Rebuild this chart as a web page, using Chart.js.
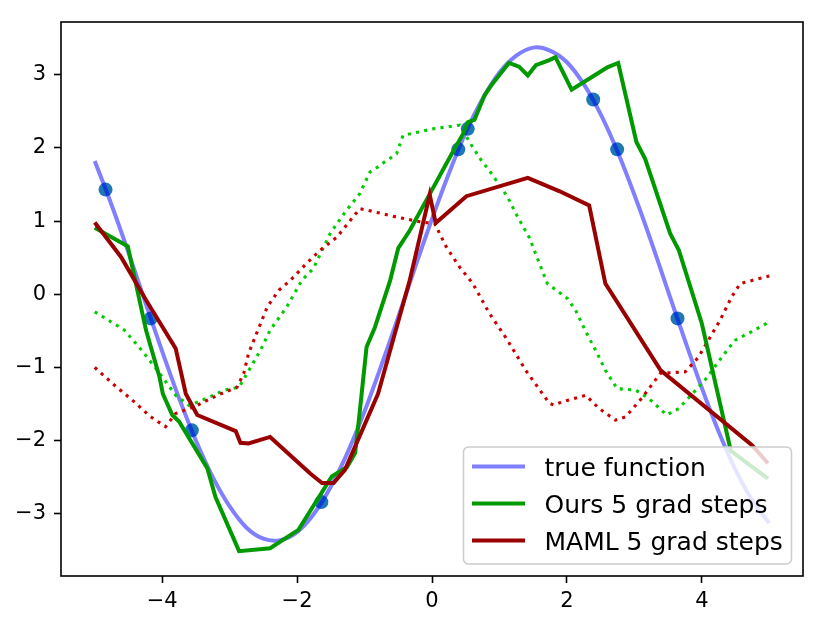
<!DOCTYPE html>
<html>
<head>
<meta charset="utf-8">
<script src="https://cdn.jsdelivr.net/npm/chart.js@4.4.1/dist/chart.umd.min.js"></script>
<style>
    body { margin: 0; background: #fff; }
    #wrap { width: 827px; height: 627px; }
</style>
</head>
<body>
<div id="wrap"><canvas id="sineChart" width="827" height="627"></canvas></div>
<script>
// tick labels
const xTicks = [-4, -2, 0, 2, 4];
const yTicks = [-3, -2, -1, 0, 1, 2, 3];

// true function
const trueX = [-5, -4.75, -4.5, -4.25, -4, -3.75, -3.5, -3.25, -3, -2.75, -2.5, -2.25, -2, -1.75, -1.5, -1.25, -1, -0.75, -0.5, -0.25,
    0, 0.25, 0.5, 0.75, 1, 1.25, 1.5, 1.75, 2, 2.25, 2.5, 2.75, 3, 3.25, 3.5, 3.75, 4, 4.25, 4.5, 4.75, 5];
const trueY = [1.82, 1.22, 0.57, -0.11, -0.78, -1.42, -2.00, -2.50, -2.90, -3.19, -3.34, -3.36, -3.25, -3.00, -2.63, -2.16, -1.60, -0.97, -0.31, 0.37,
    1.03, 1.65, 2.21, 2.67, 3.03, 3.26, 3.37, 3.33, 3.17, 2.87, 2.46, 1.95, 1.36, 0.72, 0.04, -0.63, -1.28, -1.88, -2.40, -2.82, -3.13];

// sampled points
const sampleX = [-4.84, -4.17, -3.56, -1.64, 0.39, 0.53, 2.39, 2.745, 3.64];
const sampleY = [1.43, -0.33, -1.86, -2.84, 1.98, 2.26, 2.66, 1.98, -0.33];

// Ours, 5 grad steps (solid)
const oursX = [-5, -4.51, -4.24, -4.04, -3.99, -3.85, -3.75, -3.33, -3.21, -2.86, -2.40, -1.98, -1.485, -1.26, -1.14, -1.09, -0.97, -0.846, -0.62, -0.50,
    -0.33, -0.03, 0.24, 0.46, 0.53, 0.63, 0.78, 0.90, 1.14, 1.29, 1.42, 1.54, 1.74, 1.83, 2.07, 2.33, 2.60, 2.76, 3.03, 3.16, 3.53, 3.66, 4.0, 4.43, 4.98];
const oursY = [0.91, 0.655, -0.49, -1.13, -1.36, -1.65, -1.74, -2.38, -2.77, -3.51, -3.47, -3.22, -2.49, -2.36, -2.17, -1.77, -0.72, -0.45, 0.19, 0.63,
    0.87, 1.375, 1.83, 2.19, 2.35, 2.385, 2.72, 2.88, 3.16, 3.11, 2.99, 3.13, 3.20, 3.24, 2.795, 2.945, 3.10, 3.16, 2.08, 1.85, 0.83, 0.60, -0.40, -2.14, -2.52];

// Ours before adaptation (dotted)
const oursPreX = [-5, -4.56, -4.31, -4.07, -3.80, -3.60, -3.31, -3.08, -2.86, -2.74, -2.54, -2.40, -2.15, -1.93, -1.76, -1.51, -1.29, -1.07, -0.92, -0.80,
    -0.70, -0.525, -0.43, 0.015, 0.41, 0.556, 0.73, 0.85, 1.02, 1.12, 1.245, 1.44, 1.71, 2.01, 2.13, 2.28, 2.45, 2.57, 2.745, 3.02, 3.21, 3.48, 3.66, 4.05, 4.295, 4.49, 4.74, 5];
const oursPreY = [-0.24, -0.49, -0.76, -1.04, -1.38, -1.52, -1.41, -1.31, -1.27, -1.08, -0.76, -0.49, -0.17, 0.19, 0.35, 0.83, 1.12, 1.375, 1.67, 1.74,
    1.81, 1.92, 2.17, 2.26, 2.31, 2.08, 1.83, 1.69, 1.465, 1.33, 1.10, 0.78, 0.146, -0.06, -0.22, -0.51, -0.81, -1.04, -1.29, -1.31, -1.42, -1.65, -1.56, -1.17, -0.86, -0.63, -0.51, -0.38];

// MAML, 5 grad steps (solid)
const mamlX = [-5, -4.61, -4.24, -3.80, -3.65, -3.48, -2.91, -2.84, -2.72, -2.40, -1.805, -1.63, -1.46, -1.29, -0.80, -0.33, -0.034, 0.055, 0.51, 1.42,
    1.885, 2.33, 2.57, 3.39, 4.74, 4.98];
const mamlY = [0.98, 0.51, -0.08, -0.74, -1.36, -1.65, -1.87, -2.03, -2.04, -1.95, -2.45, -2.58, -2.58, -2.40, -1.36, 0.19, 1.36, 0.975, 1.34, 1.59,
    1.41, 1.215, 0.146, -1.04, -2.06, -2.31];

// MAML before adaptation (dotted)
const mamlPreX = [-5, -4.71, -4.44, -4.17, -3.95, -3.80, -3.53, -3.18, -2.89, -2.79, -2.72, -2.59, -2.44, -2.27, -2.10, -1.85, -1.66, -1.41, -1.21, -1.07,
    -0.92, -0.525, -0.18, 0.04, 0.21, 0.41, 0.605, 0.85, 1.10, 1.39, 1.74, 1.81, 1.93, 2.28, 2.475, 2.72, 2.87, 3.11, 3.386, 3.755, 3.95, 4.27, 4.44, 4.57, 5];
const mamlPreY = [-1.00, -1.24, -1.45, -1.675, -1.81, -1.63, -1.54, -1.38, -1.27, -1.08, -0.81, -0.51, -0.17, 0.055, 0.19, 0.43, 0.60, 0.78, 1.01, 1.17,
    1.14, 1.055, 0.99, 0.965, 0.65, 0.37, 0.146, -0.26, -0.60, -1.04, -1.49, -1.515, -1.47, -1.38, -1.56, -1.72, -1.675, -1.42, -1.08, -1.06, -0.86, -0.355, -0.04, 0.146, 0.25];

const legendLabels = ['true function', 'Ours 5 grad steps', 'MAML 5 grad steps'];
const legendColors = ['rgba(0, 0, 255, 0.5)', '#009900', '#990000'];

const FONT = "'DejaVu Sans', 'Liberation Sans', sans-serif";

document.addEventListener('DOMContentLoaded', function() {
    initSineChart();
});

function toPoints(xs, ys) {
    return xs.map((x, i) => ({ x: x, y: ys[i] }));
}

function minusLabel(value) {
    return value < 0 ? '\u2212' + Math.abs(value) : String(value);
}

// matplotlib style legend, drawn over the lines with a see-through box
const legendBox = {
    id: 'legendBox',
    afterDatasetsDraw(chart) {
        const ctx = chart.ctx;
        const area = chart.chartArea;
        const w = 328, h = 117;
        const x = area.right - 11.5 - w;
        const y = area.bottom - 12 - h;

        ctx.save();
        ctx.beginPath();
        ctx.roundRect(x, y, w, h, 5);
        ctx.fillStyle = 'rgba(255, 255, 255, 0.8)';
        ctx.fill();
        ctx.lineWidth = 1.5;
        ctx.strokeStyle = '#cccccc';
        ctx.stroke();

        ctx.font = '25px ' + FONT;
        ctx.fillStyle = '#000';
        ctx.textBaseline = 'alphabetic';
        legendLabels.forEach((label, i) => {
            const ly = y + 19.5 + i * 37;
            ctx.beginPath();
            ctx.moveTo(x + 8.5, ly);
            ctx.lineTo(x + 61.5, ly);
            ctx.lineWidth = 4;
            ctx.strokeStyle = legendColors[i];
            ctx.stroke();
            ctx.fillText(label, x + 81, ly + 9.3);
        });
        ctx.restore();
    }
};

// box round the axes
const axesFrame = {
    id: 'axesFrame',
    afterDraw(chart) {
        const ctx = chart.ctx;
        const a = chart.chartArea;
        ctx.save();
        ctx.lineWidth = 1.6;
        ctx.strokeStyle = '#000';
        ctx.strokeRect(a.left, a.top, a.right - a.left, a.bottom - a.top);
        ctx.restore();
    }
};

function initSineChart() {
    const sineCtx = document.getElementById('sineChart');

    if (!sineCtx) return;

    const tickGrid = {
        drawOnChartArea: false,
        drawTicks: true,
        tickLength: 7,
        tickWidth: 1.6,
        tickColor: '#000'
    };

    const sineChart = new Chart(sineCtx, {
        type: 'scatter',
        data: {
            datasets: [
                {
                    label: 'samples',
                    data: toPoints(sampleX, sampleY),
                    pointRadius: 7,
                    pointBackgroundColor: '#1f77b4',
                    pointBorderWidth: 0,
                    showLine: false,
                    order: 6
                },
                {
                    label: 'true function',
                    data: toPoints(trueX, trueY),
                    borderColor: 'rgba(0, 0, 255, 0.5)',
                    borderWidth: 4,
                    pointRadius: 0,
                    showLine: true,
                    tension: 0.3,
                    order: 5
                },
                {
                    label: 'ours pre',
                    data: toPoints(oursPreX, oursPreY),
                    borderColor: '#00cc00',
                    borderWidth: 3.1,
                    borderDash: [3.1, 5.2],
                    borderCapStyle: 'butt',
                    pointRadius: 0,
                    showLine: true,
                    order: 4
                },
                {
                    label: 'maml pre',
                    data: toPoints(mamlPreX, mamlPreY),
                    borderColor: '#cc0000',
                    borderWidth: 3.1,
                    borderDash: [3.1, 5.2],
                    borderCapStyle: 'butt',
                    pointRadius: 0,
                    showLine: true,
                    order: 3
                },
                {
                    label: 'Ours 5 grad steps',
                    data: toPoints(oursX, oursY),
                    borderColor: '#009900',
                    borderWidth: 4,
                    pointRadius: 0,
                    showLine: true,
                    order: 2
                },
                {
                    label: 'MAML 5 grad steps',
                    data: toPoints(mamlX, mamlY),
                    borderColor: '#990000',
                    borderWidth: 4,
                    pointRadius: 0,
                    showLine: true,
                    order: 1
                }
            ]
        },
        options: {
            responsive: false,
            animation: false,
            layout: {
                padding: { top: 22, right: 24, left: 0, bottom: 0 }
            },
            plugins: {
                legend: { display: false },
                tooltip: { enabled: false }
            },
            scales: {
                x: {
                    type: 'linear',
                    min: -5.5,
                    max: 5.5,
                    afterBuildTicks: function(scale) {
                        scale.ticks = xTicks.map(v => ({ value: v }));
                    },
                    afterFit: function(scale) {
                        scale.height = 51;
                    },
                    grid: tickGrid,
                    border: { display: false },
                    ticks: {
                        color: '#000',
                        font: { family: FONT, size: 21 },
                        padding: 6,
                        maxRotation: 0,
                        autoSkip: false,
                        callback: minusLabel
                    }
                },
                y: {
                    type: 'linear',
                    min: -3.85,
                    max: 3.72,
                    afterBuildTicks: function(scale) {
                        scale.ticks = yTicks.map(v => ({ value: v }));
                    },
                    afterFit: function(scale) {
                        scale.width = 61;
                    },
                    grid: tickGrid,
                    border: { display: false },
                    ticks: {
                        color: '#000',
                        font: { family: FONT, size: 21 },
                        padding: 8,
                        autoSkip: false,
                        callback: minusLabel
                    }
                }
            }
        },
        plugins: [legendBox, axesFrame]
    });
}
</script>
</body>
</html>
